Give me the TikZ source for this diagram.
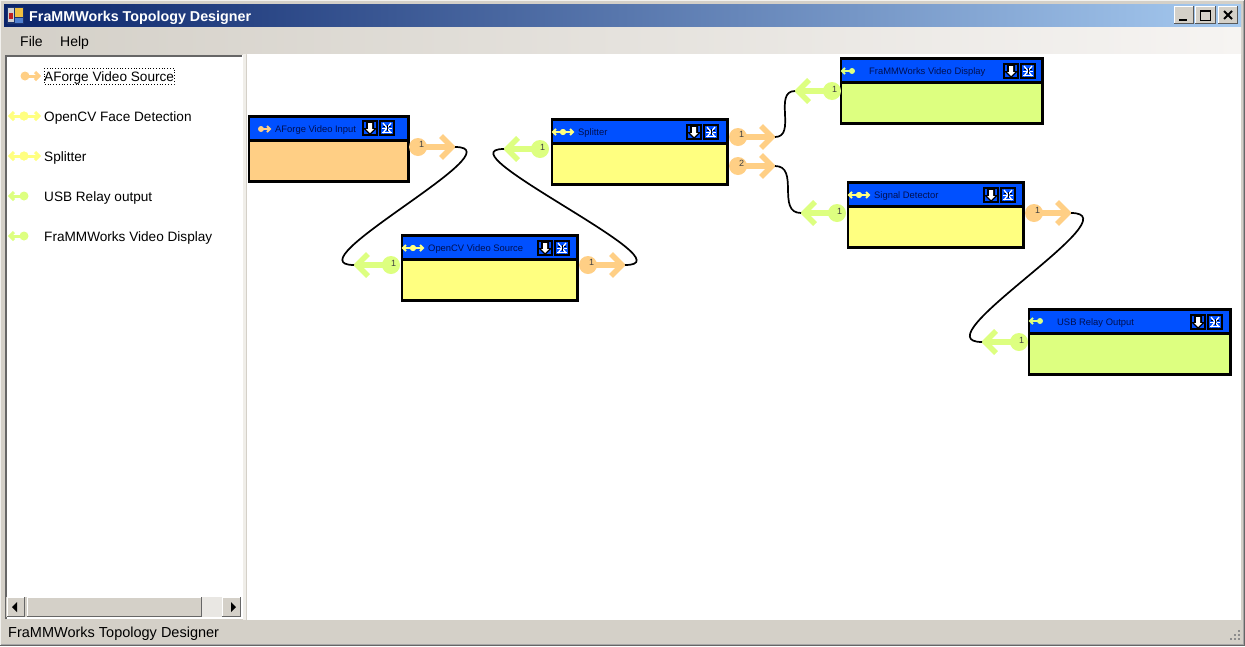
\documentclass[tikz,border=0pt]{standalone}
\usepackage{fontspec}
\setmainfont{Liberation Sans}
\usetikzlibrary{calc}
\definecolor{chrome}{HTML}{D4D0C8}
\definecolor{orangeP}{HTML}{FFCF85}
\definecolor{yellowB}{HTML}{FFFF80}
\definecolor{greenP}{HTML}{DDFF80}
\definecolor{headB}{HTML}{0050FF}
\definecolor{headT}{HTML}{001050}
\definecolor{titleL}{HTML}{0A246A}
\definecolor{titleR}{HTML}{A6CAF0}
\definecolor{menuR}{HTML}{F6F4F2}
\definecolor{icoDark}{HTML}{1C3470}
\definecolor{icoGrey}{HTML}{D0D0D0}
\definecolor{icoRed}{HTML}{C02020}
\definecolor{icoGold}{HTML}{F0C040}
\definecolor{icoBlue}{HTML}{5080D0}
\definecolor{sashC}{HTML}{F0EEE9}
\definecolor{hatchC}{HTML}{E9E7E3}
\newcommand{\fsz}[1]{\fontsize{#1}{#1}\selectfont}
\tikzset{
  boxbody/.style={draw=black,line width=2.5pt,inner sep=0pt,outer sep=0pt},
  boxhead/.style={draw=black,line width=2.5pt,fill=headB,inner sep=0pt,outer sep=0pt},
  headtitle/.style={anchor=base west,inner sep=0pt,text=headT,font=\fsz{9.4}},
  listlabel/.style={anchor=base west,inner sep=0pt,text=black,font=\fsz{13.6}},
  menulabel/.style={anchor=base west,inner sep=0pt,text=black,font=\fsz{14}},
  portbubble/.style={circle,inner sep=0pt,outer sep=0pt,minimum size=18pt},
  portnum/.style={inner sep=0pt,font=\fsz{9},text=black!75},
  portstroke/.style={line width=5.5pt,miter limit=10},
  wire/.style={draw=black,line width=1.7pt},
}
% name, x1, y1, x2, y2, yh, fill, title, title x
\newcommand{\wfblock}[9]{%
  \pgfmathsetmacro{\bw}{#4-#2-1.5}\pgfmathsetmacro{\bh}{#5-#3-1.5}%
  \pgfmathsetmacro{\hh}{#6-#3-0.75}%
  \node[boxbody,fill=#7,minimum width=\bw pt,minimum height=\bh pt] (#1) at ({(#2+#4)/2},{(#3+#5)/2}) {};
  \node[boxhead,minimum width=\bw pt,minimum height=\hh pt] (#1head) at ({(#2+#4)/2},{(#3+#6)/2}) {};
  \node[headtitle] (#1title) at (#9,{(#3+#6)/2+3.5}) {#8};
}
\newcommand{\wfbuttons}[2]{%
  \begin{scope}[shift={(#1,#2)}]
    \fill[black] (0,0) rectangle (16,16);
    \fill[headB] (2,2) rectangle (14,14);
    \fill[black] (4,1) -- (12,1) -- (12,8) -- (15,8) -- (8,15) -- (1,8) -- (4,8) -- cycle;
    \fill[white] (6,3) -- (10,3) -- (10,9) -- (12,9) -- (8,13) -- (4,9) -- (6,9) -- cycle;
  \end{scope}
  \begin{scope}[shift={(#1+17,#2)}]
    \fill[black] (0,0) rectangle (16,16);
    \fill[headB] (2,2) rectangle (14,14);
    \draw[white,line width=1.3pt] (4,3) -- (12,13) (12,3) -- (4,13);
    \draw[white,line width=1pt] (3,8) -- (6.5,8) (9.5,8) -- (13,8) (3,12.5) -- (13,12.5);
    \draw[black,line width=.8pt] (4,6.5) -- (6,6.5) (10,6.5) -- (12,6.5) (8,5) -- (8,11);
  \end{scope}
}
% name, cx, y, tipx, label  (orange output port)
\newcommand{\outport}[5]{%
  \draw[orangeP,line width=6.5pt] (#2,#3) -- (#4-3,#3);
  \draw[orangeP,portstroke] (#4-14,#3-11) -- (#4-3,#3) -- (#4-14,#3+11);
  \node[portbubble,fill=orangeP] (#1) at (#2,#3) {};
  \node[portnum] (#1num) at (#2+3.5,#3-3) {#5};
  \coordinate (#1tip) at (#4,#3);
}
\newcommand{\inport}[5]{%
  \draw[greenP,line width=6.5pt] (#2,#3) -- (#4+3,#3);
  \draw[greenP,portstroke] (#4+14,#3-11) -- (#4+3,#3) -- (#4+14,#3+11);
  \node[portbubble,fill=greenP] (#1) at (#2,#3) {};
  \node[portnum] (#1num) at (#2+2.5,#3-2) {#5};
  \coordinate (#1tip) at (#4,#3);
}
% small icons: colour,cx,tip,y,r,arm,line
\newcommand{\iconR}[7]{%
  \draw[#1,line width=#7pt] (#2,#4) -- (#3-1,#4);
  \draw[#1,line width=#7pt] (#3-1-#6,#4-#6) -- (#3-1,#4) -- (#3-1-#6,#4+#6);
  \fill[#1] (#2,#4) circle (#5);
}
\newcommand{\iconL}[7]{%
  \draw[#1,line width=#7pt] (#2,#4) -- (#3+1,#4);
  \draw[#1,line width=#7pt] (#3+1+#6,#4-#6) -- (#3+1,#4) -- (#3+1+#6,#4+#6);
  \fill[#1] (#2,#4) circle (#5);
}
\begin{document}
\begin{tikzpicture}[x=1pt,y=-1pt]
\useasboundingbox (0,0) rectangle (1245,646);
% window frame
\fill[chrome] (0,0) rectangle (1245,646);
\draw[white!70!chrome,line width=1pt] (0.5,646) -- (0.5,0.5) -- (1245,0.5);
\draw[black!60,line width=1pt] (0,645.5) -- (1244.5,645.5) -- (1244.5,0);
\draw[black!35,line width=1pt] (1,644.5) -- (1243.5,644.5) -- (1243.5,1);
% title bar
\shade[left color=titleL,right color=titleR] (4,4) rectangle (1241,27);
\fill[titleL] (4,4) rectangle (5,27);
\node[anchor=base west,inner sep=0pt,text=white,font=\bfseries\fsz{14.3}] (apptitle) at (29,21) {FraMMWorks Topology Designer};
% app icon
\fill[icoDark] (7,7) rectangle (24,24);
\fill[icoGrey] (8,8) rectangle (14,22);
\fill[icoRed] (9,13) rectangle (13,19);
\fill[icoGold] (15,8) rectangle (23,17);
\fill[icoBlue] (15,18) rectangle (23,23);
% window buttons
\foreach \xa/\xb in {1174/1194,1195/1216,1218/1238}{
  \fill[chrome] (\xa,6) rectangle (\xb,24);
  \draw[white,line width=1pt] (\xa+.5,24) -- (\xa+.5,6.5) -- (\xb,6.5);
  \draw[black!65,line width=1pt] (\xa,23.5) -- (\xb-.5,23.5) -- (\xb-.5,6);
}
\fill[black] (1179,19) rectangle (1187,21);
\draw[black,line width=1pt] (1200.5,11.5) rectangle (1210.5,20.5);
\fill[black] (1200,10) rectangle (1211,12);
\draw[black,line width=2pt] (1224,11) -- (1232,19) (1232,11) -- (1224,19);
% menu strip
\shade[left color=chrome,right color=menuR] (4,27) rectangle (1241,54);
\node[menulabel] (menufile) at (20,46.5) {File};
\node[menulabel] (menuhelp) at (60,46.5) {Help};
% list panel
\fill[white] (5,55) rectangle (243,619);
\draw[black!60,line width=2pt] (6,619) -- (6,56) -- (242,56);
\draw[white,line width=1pt] (242.5,55) -- (242.5,619);
% canvas
\fill[white] (247,54) rectangle (1241,620);
\fill[sashC] (243,54) rectangle (246,620);
% list items
\iconR{orangeP}{25}{40}{76}{4.5pt}{4}{3}
\node[listlabel] (lista) at (44,81) {AForge Video Source};
\draw[black,line width=.8pt,dotted] (44,68) rectangle (174,84);
\iconR{yellowB}{24}{40}{116}{4.5pt}{4}{3}\iconL{yellowB}{24}{9}{116}{4.5pt}{4}{3}
\node[listlabel] (listb) at (44,121) {OpenCV Face Detection};
\iconR{yellowB}{24}{40}{156}{4.5pt}{4}{3}\iconL{yellowB}{24}{9}{156}{4.5pt}{4}{3}
\node[listlabel] (listc) at (44,161) {Splitter};
\iconL{greenP}{24}{9}{196}{4.5pt}{4}{3}
\node[listlabel] (listd) at (44,201) {USB Relay output};
\iconL{greenP}{24}{9}{236}{4.5pt}{4}{3}
\node[listlabel] (liste) at (44,241) {FraMMWorks Video Display};
% scroll bar
\fill[chrome] (6,597) rectangle (241,617);
\fill[hatchC] (202,597) rectangle (222,617);
\foreach \xa/\xb in {7/25,27/202,222/241}{
  \fill[chrome] (\xa,597) rectangle (\xb,617);
  \draw[white,line width=1pt] (\xa+.5,617) -- (\xa+.5,597.5) -- (\xb,597.5);
  \draw[black!60,line width=1pt] (\xa,616.5) -- (\xb-.5,616.5) -- (\xb-.5,597);
}
\fill[black] (12,607) -- (17,602) -- (17,612) -- cycle;
\fill[black] (236,607) -- (231,602) -- (231,612) -- cycle;
% status bar
\node[anchor=base west,inner sep=0pt,font=\fsz{14.5}] (status) at (8,637) {FraMMWorks Topology Designer};
\foreach \gx/\gy in {1238/630,1234/634,1238/634,1230/638,1234/638,1238/638}{
  \fill[black!45] (\gx,\gy) rectangle +(2,2);
}
% blocks
\wfblock{aforge}{248}{116}{409}{182}{141}{orangeP}{AForge Video Input}{275}
\wfbuttons{362}{120}
\iconR{orangeP}{261}{271}{129}{3pt}{3}{2}
\wfblock{opencv}{401}{235}{578}{301}{260}{yellowB}{OpenCV Video Source}{428}
\wfbuttons{537}{240}
\iconR{yellowB}{413}{424}{248}{3pt}{3}{2}\iconL{yellowB}{413}{402}{248}{3pt}{3}{2}
\wfblock{splitter}{551}{119}{728}{185}{144}{yellowB}{Splitter}{578}
\wfbuttons{686}{124}
\iconR{yellowB}{563}{574}{132}{3pt}{3}{2}\iconL{yellowB}{563}{552}{132}{3pt}{3}{2}
\wfblock{display}{840}{58}{1043}{124}{83}{greenP}{FraMMWorks Video Display}{869}
\wfbuttons{1003}{63}
\iconL{greenP}{852}{841}{71}{3pt}{3}{2}
\wfblock{signal}{847}{182}{1024}{248}{207}{yellowB}{Signal Detector}{874}
\wfbuttons{983}{187}
\iconR{yellowB}{859}{870}{195}{3pt}{3}{2}\iconL{yellowB}{859}{848}{195}{3pt}{3}{2}
\wfblock{usb}{1028}{309}{1231}{375}{334}{greenP}{USB Relay Output}{1057}
\wfbuttons{1190}{314}
\iconL{greenP}{1040}{1029}{321}{3pt}{3}{2}
% ports
\outport{aforgeout}{418}{147}{455}{1}
\inport{opencvin}{391}{265}{354}{1}
\outport{opencvout}{588}{265}{625}{1}
\inport{splitin}{540}{149}{504}{1}
\outport{splitoutA}{738}{137}{775}{1}
\outport{splitoutB}{738}{166}{775}{2}
\inport{displayin}{832}{91}{795}{1}
\inport{signalin}{837}{213}{801}{1}
\outport{signalout}{1034}{213}{1071}{1}
\inport{usbin}{1019}{342}{982}{1}
% connectors
\draw[wire] (aforgeouttip) .. controls +(65,0) and +(-65,0) .. (opencvintip);
\draw[wire] (opencvouttip) .. controls +(68,0) and +(-65,0) .. (splitintip);
\draw[wire] (splitoutAtip) .. controls +(22,0) and +(-22,0) .. (displayintip);
\draw[wire] (splitoutBtip) .. controls +(25,0) and +(-25,0) .. (signalintip);
\draw[wire] (signalouttip) .. controls +(65,0) and +(-65,0) .. (usbintip);
\end{tikzpicture}
\end{document}
